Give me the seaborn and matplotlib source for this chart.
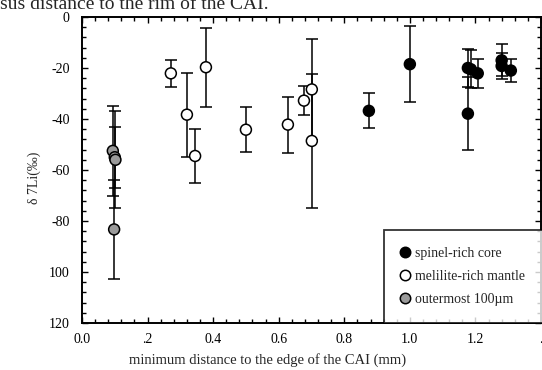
import numpy as np
import pandas as pd
import matplotlib
matplotlib.use("Agg")
import matplotlib.pyplot as plt
from matplotlib.lines import Line2D
from matplotlib.ticker import MultipleLocator
import seaborn as sns

# -----------------------------
# Data
# -----------------------------
core_x = [0.875, 1.000, 1.177, 1.186, 1.177, 1.207, 1.280, 1.280, 1.308]
core_y = [-36.8, -18.5, -20.0, -20.5, -37.9, -22.1, -17.0, -19.2, -21.0]
core_err = [6.9, 14.8, 7.5, 7.5, 14.2, 5.7, 6.3, 5.0, 4.5]

mantle_x = [0.271, 0.378, 0.320, 0.345, 0.500, 0.628, 0.677, 0.701, 0.701]
mantle_y = [-22.1, -19.7, -38.3, -54.5, -44.2, -42.2, -32.8, -28.4, -48.6]
mantle_err = [5.3, 15.5, 16.5, 10.6, 8.9, 11.0, 5.7, 19.7, 26.4]

outer_x = [0.094, 0.100, 0.102, 0.098]
outer_y = [-52.5, -55.0, -56.0, -83.3]
outer_err = [17.5, 12.0, 19.0, 19.5]

groups = ["spinel-rich core", "melilite-rich mantle", "outermost 100µm"]
colors = ["black", "white", "#9a9a9a"]

x_ticks = [0.0, 0.2, 0.4, 0.6, 0.8, 1.0, 1.2, 1.4]
x_labels = ["0.0", ".2", "0.4", "0.6", "0.8", "1.0", "1.2", "."]
y_ticks = [0, -20, -40, -60, -80, -100, -120]
y_labels = ["0", "-20", "-40", "-60", "-80", "100", "120"]

df = pd.concat([
    pd.DataFrame({"x": core_x, "y": core_y, "err": core_err, "group": groups[0]}),
    pd.DataFrame({"x": mantle_x, "y": mantle_y, "err": mantle_err, "group": groups[1]}),
    pd.DataFrame({"x": outer_x, "y": outer_y, "err": outer_err, "group": groups[2]}),
], ignore_index=True)

# -----------------------------
# Style
# -----------------------------
sns.set_theme(style="ticks")
plt.rcParams['font.family'] = ['Liberation Serif', 'DejaVu Serif']
plt.rcParams['font.size'] = 10

fig = plt.figure(figsize=(5.42, 3.70), dpi=100)
W, H = 542, 370
ax = fig.add_axes([82 / W, (H - 323) / H, 459 / W, 306 / H])

# error bars first
ax.errorbar(df["x"], df["y"], yerr=df["err"], fmt="none", ecolor="black",
            elinewidth=1.1, capsize=4.5, capthick=1.1, zorder=2)

sns.scatterplot(data=df, x="x", y="y", hue="group", hue_order=groups,
                palette=dict(zip(groups, colors)), s=62, edgecolor="black",
                linewidth=1.1, legend=False, zorder=3, ax=ax)

ax.set_xlim(0, 1.4)
ax.set_ylim(-120, 0)
ax.set_xticks(x_ticks)
ax.set_xticklabels(x_labels)
ax.set_yticks(y_ticks)
ax.set_yticklabels(y_labels)
ax.xaxis.set_minor_locator(MultipleLocator(0.04))
ax.yaxis.set_minor_locator(MultipleLocator(4))
ax.tick_params(which="both", direction="in", top=True, right=True,
               width=1.0, colors="black", labelsize=10)
ax.tick_params(which="major", length=4)
ax.tick_params(which="minor", length=3)
ax.tick_params(axis="x", which="major", pad=7)
ax.tick_params(axis="y", which="major", pad=9)
for sp in ax.spines.values():
    sp.set_linewidth(1.4)
    sp.set_color("black")

ax.set_xlabel("minimum distance to the edge of the CAI (mm)", fontsize=10.5)
ax.xaxis.set_label_coords(0.405, -0.098)
ax.set_ylabel("δ 7Li(‰)", fontsize=10)
ax.yaxis.set_label_coords(-0.089, 0.474)

handles = [Line2D([], [], marker="o", linestyle="none", markerfacecolor=c,
                  markeredgecolor="black", markeredgewidth=1.1, markersize=7.5)
           for c in colors]
leg = ax.legend(handles, groups, loc="lower left",
                bbox_to_anchor=(0.657, 0.0, 0.36, 0.3), mode="expand",
                borderaxespad=0, fancybox=False, frameon=True, fontsize=10,
                handletextpad=0.35, handlelength=0.7, labelspacing=0.75,
                borderpad=1.2)
leg.get_frame().set_edgecolor("black")
leg.get_frame().set_linewidth(1.3)

fig.text(0.0, 1 - 9 / H, "sus distance to the rim of the CAI.", fontsize=14,
         ha="left", va="baseline")

fig.savefig("out.png", dpi=100)
